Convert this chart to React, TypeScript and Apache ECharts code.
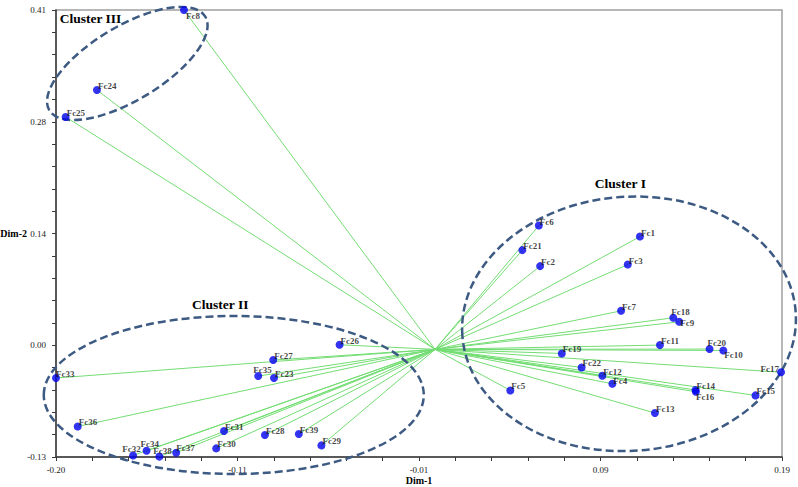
import React, { useEffect, useRef } from "react";
import * as echarts from "echarts";

const pointNames = [
  "Fc1", "Fc2", "Fc3", "Fc4", "Fc5", "Fc6", "Fc7", "Fc8", "Fc9", "Fc10",
  "Fc11", "Fc12", "Fc13", "Fc14", "Fc15", "Fc16", "Fc17", "Fc18", "Fc19", "Fc20",
  "Fc21", "Fc22", "Fc23", "Fc24", "Fc25", "Fc26", "Fc27", "Fc28", "Fc29", "Fc30",
  "Fc31", "Fc32", "Fc33", "Fc34", "Fc35", "Fc36", "Fc37", "Fc38", "Fc39",
];
const dim1Values = [
  0.1106, 0.0567, 0.104, 0.0957, 0.0406, 0.056, 0.1004, -0.1356, 0.1318, 0.1556,
  0.1214, 0.0903, 0.1187, 0.1406, 0.173, 0.1408, 0.1868, 0.1286, 0.0684, 0.1482,
  0.0471, 0.0791, -0.087, -0.1826, -0.1995, -0.0516, -0.0874, -0.0919, -0.0614, -0.1182,
  -0.114, -0.1631, -0.2047, -0.1558, -0.0955, -0.193, -0.1398, -0.1489, -0.0736,
];
const dim2Values = [
  0.1363, 0.1006, 0.1025, -0.0415, -0.0496, 0.1496, 0.0466, 0.41, 0.0333, -0.0013,
  0.0052, -0.0318, -0.0769, -0.0491, -0.0556, -0.0512, -0.0276, 0.0382, -0.0049, 0.0004,
  0.1199, -0.0218, -0.0346, 0.3134, 0.2808, 0.0056, -0.0129, -0.1034, -0.116, -0.1196,
  -0.0986, -0.1281, -0.0346, -0.1224, -0.0322, -0.0931, -0.1248, -0.1295, -0.1022,
];

const xTickLabels = ["-0.20", "-0.11", "-0.01", "0.09", "0.19"];
const yTickLabels = ["-0.13", "0.00", "0.14", "0.28", "0.41"];

const clusterNames = ["Cluster I", "Cluster II", "Cluster III"];
const clusterLabelDim1 = [0.1, -0.116, -0.2027];
const clusterLabelDim2 = [0.2008, 0.0545, 0.3998];
const clusterCenterDim1 = [0.1047, -0.1087, -0.1662];
const clusterCenterDim2 = [0.0309, -0.0551, 0.3454];

// styling (pixel radii / rotation of the dashed cluster outlines)
const clusterRx = [167, 190, 91];
const clusterRy = [127, 79, 37];
const clusterRotDeg = [4, 0, 31];
const clusterLabelAlign = ["center", "center", "left"];

const labelOffsets: Record<string, { pos: [number, number]; align?: string }> = {
  Fc4: { pos: [5, 1] },
  Fc8: { pos: [6, 10] },
  Fc9: { pos: [5, 5] },
  Fc10: { pos: [5, 9] },
  Fc16: { pos: [4, 9] },
  Fc17: { pos: [2, 1], align: "right" },
  Fc32: { pos: [2.5, -2], align: "center" },
  Fc34: { pos: [-2, -2.5] },
  Fc38: { pos: [-2, -1.5] },
  Fc35: { pos: [-1, -2] },
  Fc18: { pos: [2, -2] },
  Fc20: { pos: [2, -2.5] },
  Fc37: { pos: [4, -1] },
  Fc33: { pos: [4, -0.5] },
};

const xMin = -0.2047;
const xInterval = 0.098;
const xMax = xMin + 4 * xInterval;
const yMin = -0.13;
const yInterval = 0.135;
const yMax = 0.41;

const FONT = "'Liberation Serif', 'Times New Roman', serif";

export default function App() {
  const ref = useRef<HTMLDivElement>(null);
  useEffect(() => {
    document.body.style.margin = "0";
    if (!ref.current) return;
    const chart = echarts.init(ref.current, null, { renderer: "svg" });

    const scatterData = pointNames.map((n, i) => {
      const o = labelOffsets[n];
      const item: any = { name: n, value: [dim1Values[i], dim2Values[i]] };
      if (o) {
        item.label = { position: o.pos, align: o.align || "left" };
      }
      return item;
    });
    const lineData = pointNames.map((n, i) => ({
      coords: [
        [0, 0],
        [dim1Values[i], dim2Values[i]],
      ],
    }));

    const axisCommon = {
      nameMoveOverlap: false,
      axisLine: { show: true, onZero: false, lineStyle: { color: "#3a3a3a", width: 1.5 } },
      axisTick: { show: true, inside: false, length: 4, lineStyle: { color: "#3a3a3a", width: 1 } },
      minorTick: { show: true, splitNumber: 5, length: 4, lineStyle: { color: "#3a3a3a", width: 1 } },
      splitLine: { show: false },
      minorSplitLine: { show: false },
    };

    chart.setOption({
      animation: false,
      grid: {
        left: 56,
        right: 16,
        top: 10,
        bottom: 30,
        show: true,
        borderColor: "#a0a0a0",
        borderWidth: 1.5,
        outerBoundsMode: "none",
      },
      xAxis: {
        type: "value",
        min: xMin,
        max: xMax,
        interval: xInterval,
        name: "Dim-1",
        nameLocation: "middle",
        nameGap: 18,
        nameTextStyle: { fontFamily: FONT, fontWeight: "bold", fontSize: 10, color: "#000" },
        axisLabel: {
          margin: 8,
          fontFamily: FONT,
          fontSize: 9,
          color: "#222",
          formatter: (v: number) => xTickLabels[Math.round((v - xMin) / xInterval)] ?? "",
        },
        ...axisCommon,
      },
      yAxis: {
        type: "value",
        min: yMin,
        max: yMax,
        interval: yInterval,
        name: "Dim-2",
        nameLocation: "middle",
        nameRotate: 0,
        nameGap: 29,
        nameTextStyle: {
          fontFamily: FONT,
          fontWeight: "bold",
          fontSize: 10,
          color: "#000",
          align: "right",
          verticalAlign: "middle",
        },
        axisLabel: {
          margin: 10,
          fontFamily: FONT,
          fontSize: 9,
          color: "#222",
          formatter: (v: number) => yTickLabels[Math.round((v - yMin) / yInterval)] ?? "",
        },
        ...axisCommon,
      },
      series: [
        {
          type: "lines",
          coordinateSystem: "cartesian2d",
          z: 2,
          silent: true,
          lineStyle: { color: "#74dd74", width: 1, opacity: 1, curveness: 0 },
          data: lineData,
        },
        {
          type: "scatter",
          z: 5,
          clip: false,
          symbol: "circle",
          symbolSize: 8,
          itemStyle: { color: "#0000ee" },
          label: {
            show: true,
            position: [5, 0],
            align: "left",
            verticalAlign: "middle",
            formatter: "{b}",
            fontFamily: FONT,
            fontWeight: "bold",
            fontSize: 9,
            color: "#111",
          },
          labelLayout: { hideOverlap: false },
          data: scatterData,
        },
      ],
    });

    const graphics: any[] = [];
    clusterNames.forEach((name, i) => {
      const c = chart.convertToPixel({ gridIndex: 0 } as any, [clusterCenterDim1[i], clusterCenterDim2[i]]) as number[];
      graphics.push({
        type: "ellipse",
        x: c[0],
        y: c[1],
        rotation: (clusterRotDeg[i] * Math.PI) / 180,
        shape: { cx: 0, cy: 0, rx: clusterRx[i], ry: clusterRy[i] },
        style: { fill: "none", stroke: "#3d5a82", lineWidth: 2.5, lineDash: [8, 4] },
        z: 4,
        silent: true,
      });
      const l = chart.convertToPixel({ gridIndex: 0 } as any, [clusterLabelDim1[i], clusterLabelDim2[i]]) as number[];
      graphics.push({
        type: "text",
        x: l[0],
        y: l[1],
        style: {
          text: name,
          fontFamily: FONT,
          fontWeight: "bold",
          fontSize: 13.5,
          fill: "#000",
          textAlign: clusterLabelAlign[i],
          textVerticalAlign: "middle",
        },
        z: 6,
        silent: true,
      });
    });
    chart.setOption({ graphic: graphics });

    return () => chart.dispose();
  }, []);
  return <div ref={ref} style={{ width: 798, height: 487 }} />;
}
